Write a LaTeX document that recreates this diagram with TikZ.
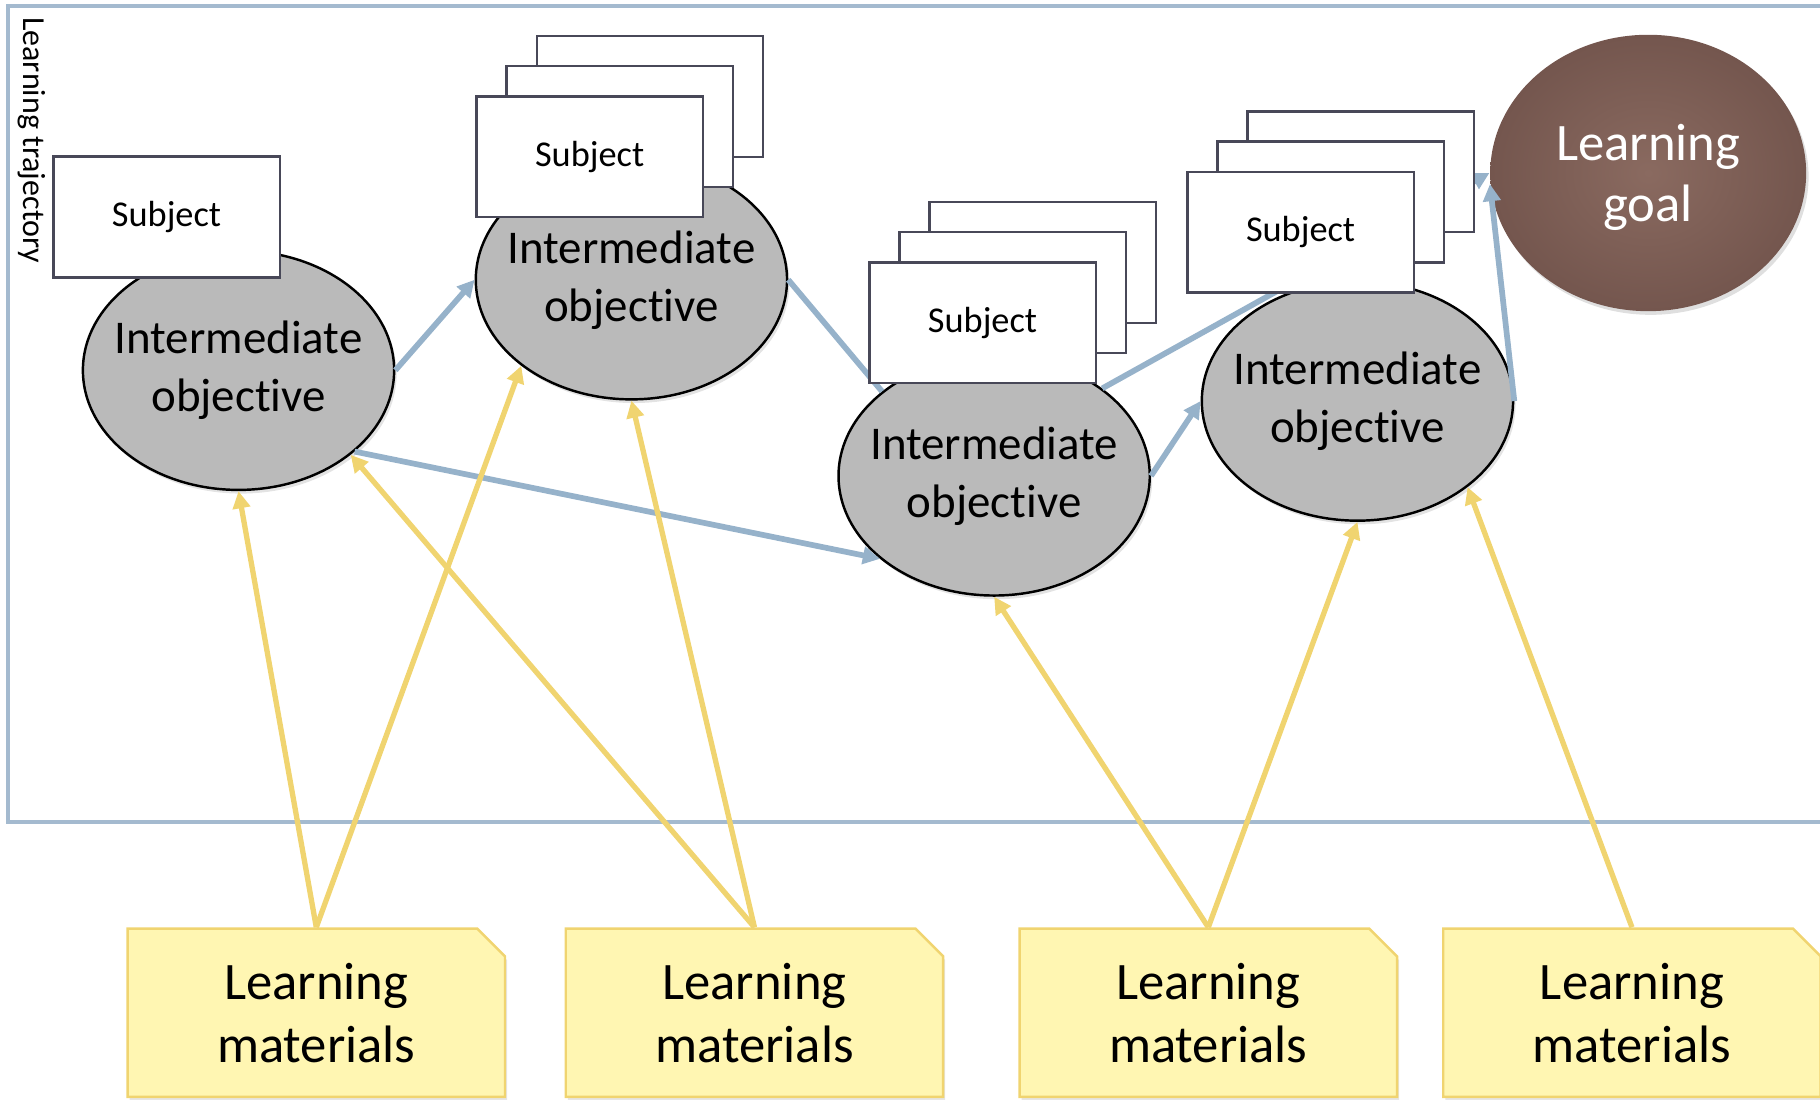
\documentclass[tikz,border=0pt]{standalone}
\usepackage{fontspec}
\setmainfont{Carlito}[Ligatures=NoCommon]
\usetikzlibrary{shapes.geometric}
\usetikzlibrary{shapes.misc}
\usetikzlibrary{arrows.meta}
\usetikzlibrary{shadows}
\definecolor{frameblue}{RGB}{164,186,207}
\definecolor{linkblue}{RGB}{150,178,202}
\definecolor{gold}{RGB}{240,212,112}
\definecolor{paperlight}{RGB}{255,246,178}
\definecolor{papermid}{RGB}{255,239,128}
\definecolor{sheetline}{RGB}{72,72,88}
\definecolor{goalin}{RGB}{138,106,96}
\definecolor{goalout}{RGB}{116,86,78}
\colorlet{objedge}{black!27}
\colorlet{objmid}{black!42}
\tikzset{
  % node options
  objective/.style={ellipse,draw,line width=0.6pt,
    minimum width=2.68cm,minimum height=2.06cm,inner xsep=-2mm,inner ysep=0pt,
    align=center,font=\fontsize{11.5}{14.2}\selectfont,
    left color=objedge,middle color=objmid,right color=objedge,shading angle=60,
    drop shadow={opacity=.22,shadow xshift=.6pt,shadow yshift=-.9pt}},
  goal/.style={ellipse,minimum width=2.72cm,minimum height=2.38cm,inner sep=0pt,
    inner color=goalin,outer color=goalout,text=white,text depth=0pt,
    align=center,font=\fontsize{12.9}{15}\selectfont,
    drop shadow={opacity=.25,shadow xshift=.6pt,shadow yshift=-.9pt}},
  subject/.style={rectangle,draw=sheetline,line width=0.6pt,fill=white,
    minimum width=1.95cm,minimum height=1.04cm,inner sep=0pt,
    font=\fontsize{8.9}{10}\selectfont},
  material/.style={chamfered rectangle,chamfered rectangle corners=north east,
    chamfered rectangle xsep=.12cm,chamfered rectangle ysep=.12cm,
    draw=gold,line width=0.6pt,minimum width=3.25cm,minimum height=1.45cm,inner sep=0pt,
    left color=paperlight,middle color=papermid,right color=paperlight,shading angle=70,
    align=center,text depth=-3.4pt,font=\fontsize{12.9}{15.4}\selectfont,
    drop shadow={opacity=.2,shadow xshift=.5pt,shadow yshift=-.9pt}},
  % path options
  leads to/.style={-{Triangle[length=4.2pt,width=4.2pt]},line width=1.4pt,draw=linkblue},
  leads on/.style={line width=1.4pt,draw=linkblue},
  feeds/.style={-{Triangle[length=4.2pt,width=4.2pt]},line width=1.3pt,draw=gold},
}
\newcommand{\subjectstack}[3]{% #1 name, #2 #3 centre of the front sheet
  \node[subject] (#1 back) at (#2+52,#3-52) {};
  \node[subject] (#1 mid) at (#2+26,#3-26) {};
  \node[subject] (#1) at (#2,#3) {Subject};
}

\begin{document}
\begin{tikzpicture}[x=0.01cm,y=-0.01cm]
  \useasboundingbox (0,0) rectangle (1568,947);
  \draw[frameblue,line width=0.9pt] (7,5) rectangle (1620,708);
  \node[rotate=-90,anchor=west,inner sep=0pt,font=\fontsize{7.85}{9}\selectfont]
    (trajectory) at (27,14) {Learning trajectory};

  \node[objective] (objective 1) at (205.5,319) {Intermediate\\objective};
  \node[objective] (objective 2) at (544,241) {Intermediate\\objective};
  \node[objective] (objective 3) at (856.5,410) {Intermediate\\objective};
  \node[objective] (objective 4) at (1169.5,345.5) {Intermediate\\objective};
  \node[goal] (learning goal) at (1420,149) {Learning\\goal};

  \node[material] (materials 1) at (272.5,872.5) {Learning\\materials};
  \node[material] (materials 2) at (650,872.5) {Learning\\materials};
  \node[material] (materials 3) at (1041,872.5) {Learning\\materials};
  \node[material] (materials 4) at (1406,872.5) {Learning\\materials};

  % trajectory
  \draw[leads to] (objective 1.east) -- (objective 2.west);
  \draw[leads on] (objective 2.east) -- (objective 3.143);
  \draw[leads to] (objective 1.325) -- (objective 3.216);
  \draw[leads to] (objective 3.east) -- (objective 4.west);
  \draw[leads to] (objective 3.39) -- (learning goal.west);
  \draw[leads to] (objective 4.east) -- (learning goal.184);

  % materials
  \draw[feeds] (materials 1.north) -- (objective 1.south);
  \draw[feeds] (materials 1.north) -- (objective 2.218);
  \draw[feeds] (materials 2.north) -- (objective 1.323);
  \draw[feeds] (materials 2.north) -- (objective 2.south);
  \draw[feeds] (materials 3.north) -- (objective 3.south);
  \draw[feeds] (materials 3.north) -- (objective 4.south);
  \draw[feeds] (materials 4.north) -- (objective 4.322);

  \node[subject] (subject 1) at (143.5,187) {Subject};
  \subjectstack{subject 2}{508}{135}
  \subjectstack{subject 3}{846.5}{278}
  \subjectstack{subject 4}{1120.5}{200}
\end{tikzpicture}
\end{document}
